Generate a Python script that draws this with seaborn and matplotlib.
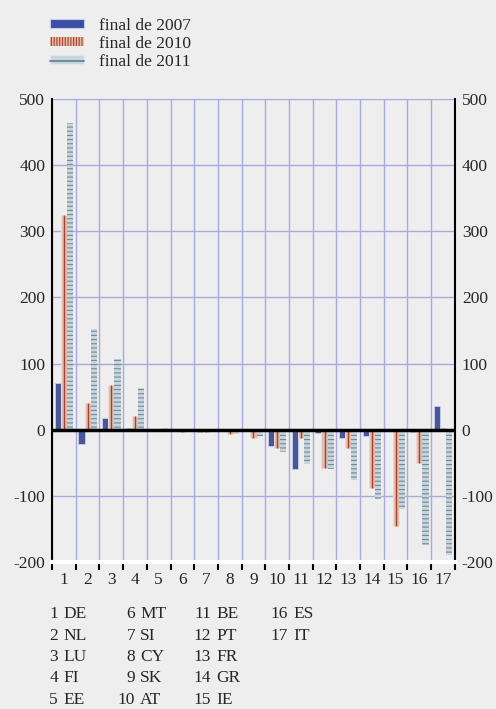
import numpy as np
import pandas as pd
import matplotlib
matplotlib.use('Agg')
import matplotlib.pyplot as plt
import seaborn as sns
from matplotlib.patches import Patch
from matplotlib.lines import Line2D
from matplotlib.legend_handler import HandlerTuple

# data
countries = ['DE', 'NL', 'LU', 'FI', 'EE', 'MT', 'SI', 'CY', 'SK',
             'AT', 'BE', 'PT', 'FR', 'GR', 'IE', 'ES', 'IT']
series_names = ['final de 2007', 'final de 2010', 'final de 2011']
end_2007 = [70, -22, 17, 3, 0, 0, -3, 0, 0, -25, -60, -5, -12, -9, 0, -3, 36]
end_2010 = [325, 40, 68, 20, 0, -4, -4, -6, -12, -28, -13, -58, -27, -88, -145, -50, 2]
end_2011 = [463, 152, 107, 63, 2, -3, -3, -6, -10, -33, -52, -60, -76, -104, -120, -175, -190]
y_ticks = [-200, -100, 0, 100, 200, 300, 400, 500]

nums = [str(i + 1) for i in range(len(countries))]
df = pd.DataFrame({
    'num': nums * 3,
    'serie': np.repeat(series_names, len(countries)),
    'valor': end_2007 + end_2010 + end_2011,
})

bg = '#eeeeee'
face = ['#3b4ea6', '#e4bba8', '#c8d5dc']
edge = ['#c9cde6', '#f0dcd2', '#e2e9ed']
accent = ['#3b4ea6', '#a8402e', '#6a8c9b']

sns.set_style('white')
plt.rcParams['font.family'] = 'serif'
plt.rcParams['font.serif'] = ['Liberation Serif', 'DejaVu Serif']
plt.rcParams['font.size'] = 12.5
plt.rcParams['hatch.linewidth'] = 0.8

fig = plt.figure(figsize=(4.96, 7.09), dpi=100, facecolor=bg)
ax = fig.add_axes([0.105, 0.2073, 0.812, 0.6531])
ax.set_facecolor(bg)

sns.barplot(data=df, x='num', y='valor', hue='serie', order=nums,
            hue_order=series_names, palette=face, width=0.78,
            legend=False, ax=ax, zorder=3)

for k, cont in enumerate(ax.containers):
    for p in cont.patches:
        p.set_edgecolor(edge[k])
        p.set_linewidth(0.6)
        p.set_zorder(3)
        if k == 1:
            cx = p.get_x() + p.get_width() / 2
            h = p.get_height()
            if h != 0:
                ax.vlines(cx, p.get_y(), p.get_y() + h, color=accent[1],
                          lw=1.0, zorder=4)
        if k == 2:
            p.set_hatch('----')
            p.set_edgecolor(accent[2])
            p.set_linewidth(0)

ax.set_xlim(-0.5, len(countries) - 0.5)
ax.set_ylim(-200, 500)
ax.set_yticks(y_ticks)
ax.set_yticklabels([str(v) for v in y_ticks])
ax.set_xticks(range(len(countries)))
ax.set_xticklabels(nums)
ax.set_xticks(np.arange(-0.5, len(countries), 1.0), minor=True)
ax.set_xlabel('')
ax.set_ylabel('')

ax.grid(False)
ax.grid(axis='y', which='major', color='#a9a9e2', lw=1, zorder=0)
ax.grid(axis='x', which='minor', color='#a9a9e2', lw=1, zorder=0)
ax.axhline(0, color='black', lw=2.5, zorder=5)

ax.tick_params(axis='y', left=False, right=False, length=0, labelleft=True,
               labelright=True, pad=5, labelsize=12.5)
ax.tick_params(axis='x', which='major', bottom=False, length=0, pad=7,
               labelsize=12.5)
ax.tick_params(axis='x', which='minor', bottom=True, direction='out',
               length=6, width=1.5, color='black')

for side in ['left', 'right']:
    ax.spines[side].set_visible(True)
    ax.spines[side].set_color('black')
    ax.spines[side].set_linewidth(1.5)
ax.spines['top'].set_visible(False)
ax.spines['bottom'].set_visible(True)
ax.spines['bottom'].set_color('white')
ax.spines['bottom'].set_linewidth(3)

# legend
handles = [
    Patch(facecolor=face[0], edgecolor=edge[0], lw=0.8),
    Patch(facecolor=face[1], edgecolor=accent[1], lw=0, hatch='||||||'),
    (Patch(facecolor=face[2], edgecolor=edge[2], lw=0.8),
     Line2D([], [], color=accent[2], lw=1.4)),
]
fig.legend(handles, series_names, loc='upper left',
           bbox_to_anchor=(0.069, 0.997), frameon=False,
           handlelength=1.95, handleheight=0.4, handletextpad=0.9,
           labelspacing=0.12, fontsize=12.5,
           handler_map={tuple: HandlerTuple(ndivide=1, pad=0)})

# country key below the chart
col_num_x = [58, 135, 211, 288]
row_y0 = 614
row_dy = 21.5
for i, code in enumerate(countries):
    col, row = divmod(i, 5)
    xr = col_num_x[col] / 496
    yy = 1 - (row_y0 + row * row_dy) / 709
    fig.text(xr, yy, str(i + 1), ha='right', va='center', fontsize=12.5)
    fig.text(xr + 5 / 496, yy, code, ha='left', va='center', fontsize=12.5)

fig.savefig('out.png', dpi=100, facecolor=bg)
